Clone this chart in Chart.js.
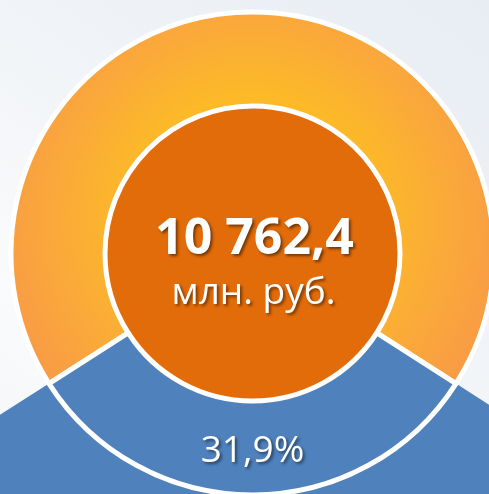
<!DOCTYPE html>
<html lang="ru">
<head>
<meta charset="utf-8">
<title>Структура</title>
<script src="https://cdn.jsdelivr.net/npm/chart.js@4.4.1/dist/chart.umd.min.js"></script>
<style>
    html, body { margin: 0; padding: 0; }
    body {
        width: 489px;
        height: 494px;
        overflow: hidden;
        background: linear-gradient(215deg, #E8EDF3 0%, #F0F3F7 40%, #FAFBFC 75%, #F3F5F8 100%);
    }
    #contenedorGrafico { position: relative; width: 489px; height: 494px; }
</style>
</head>
<body>
<div id="contenedorGrafico"><canvas id="chartDona"></canvas></div>
<script>
// =========================================================================
// DONA DE PARTICIPACIÓN + TOTAL EN EL CENTRO
// =========================================================================

// ── DATOS ───────────────────────────────────────────────────────────────
const categorias    = ['Прочие', 'Доля'];
const porcentajes   = [68.1, 31.9];
const mostrarValor  = [false, true];
const totalMillones = 10762.4;
const unidadTotal   = 'млн. руб.';

// ── ESTILO ──────────────────────────────────────────────────────────────
const azul          = '#4F81BD';
const naranjaCentro = '#E36C0A';
const fuente        = '"Open Sans", "Noto Sans", sans-serif';

// 10762.4 -> "10 762,4"
function formatoRu(valor, decimales) {
    const [ent, dec] = valor.toFixed(decimales).split('.');
    const miles = ent.replace(/\B(?=(\d{3})+(?!\d))/g, ' ');
    return dec ? `${miles},${dec}` : miles;
}

function degradadoAnillo(c) {
    const chart = c.chart;
    const area = chart.chartArea;
    const ctl = chart.getDatasetMeta(c.datasetIndex).controller;
    // antes del primer update el controlador aún no tiene radios
    if (!area || !isFinite(ctl.innerRadius) || !isFinite(ctl.outerRadius)) return '#F9A73A';
    const cx = (area.left + area.right) / 2;
    const cy = (area.top + area.bottom) / 2 - 35;   // foco un poco más arriba
    const g = chart.ctx.createRadialGradient(cx, cy, 120, cx, cy, 290);
    g.addColorStop(0, '#FDBA27');
    g.addColorStop(0.45, '#FAA93A');
    g.addColorStop(1, '#F7954B');
    return g;
}

const pluginCentro = {
    id: 'centroTotal',
    beforeDatasetsDraw(chart) {
        // disco naranja dentro del hueco de la dona
        const arco = chart.getDatasetMeta(1).data[0];
        const ctx = chart.ctx;
        ctx.save();
        ctx.beginPath();
        ctx.arc(arco.x, arco.y, arco.innerRadius, 0, Math.PI * 2);
        ctx.fillStyle = naranjaCentro;
        ctx.fill();
        ctx.restore();
    },
    afterDatasetsDraw(chart) {
        const ctx = chart.ctx;
        const meta = chart.getDatasetMeta(1);
        const cx = meta.data[0].x;
        const cy = meta.data[0].y;

        ctx.save();
        ctx.fillStyle = '#FFFFFF';
        ctx.textAlign = 'center';
        ctx.textBaseline = 'alphabetic';
        ctx.shadowColor = 'rgba(0,0,0,0.5)';
        ctx.shadowOffsetX = 2;
        ctx.shadowOffsetY = 2;
        ctx.shadowBlur = 3;

        ctx.font = `bold 50px ${fuente}`;
        ctx.fillText(formatoRu(totalMillones, 1), cx + 2, cy + 0.5);

        ctx.font = `37px ${fuente}`;
        ctx.fillText(unidadTotal, cx + 1, cy + 50);

        // porcentaje dentro del segmento
        meta.data.forEach((arco, i) => {
            if (!mostrarValor[i]) return;
            const p = arco.getCenterPoint();
            ctx.font = `37px ${fuente}`;
            ctx.fillText(`${formatoRu(porcentajes[i], 1)}%`, p.x, p.y + 14);
        });
        ctx.restore();
    }
};

const ctx = document.getElementById('chartDona').getContext('2d');
new Chart(ctx, {
    type: 'doughnut',
    data: {
        labels: categorias,
        datasets: [
            {
                // banda exterior: sólo el segmento azul sobresale
                data: porcentajes,
                backgroundColor: ['rgba(0,0,0,0)', azul],
                borderWidth: 0,
                weight: 118.5,
                order: 1
            },
            {
                data: porcentajes,
                backgroundColor: c => (c.dataIndex === 1 ? azul : degradadoAnillo(c)),
                borderColor: '#FFFFFF',
                borderWidth: 5,
                weight: 94,
                order: 0
            }
        ]
    },
    options: {
        responsive: true,
        maintainAspectRatio: false,
        animation: false,
        radius: 360,
        cutout: '40.972%',
        rotation: -porcentajes[0] * 3.6 / 2,
        layout: { padding: { left: 16, top: 13, right: 0, bottom: 0 } },
        plugins: {
            legend: { display: false },
            tooltip: { enabled: false }
        }
    },
    plugins: [pluginCentro]
});
</script>
</body>
</html>
